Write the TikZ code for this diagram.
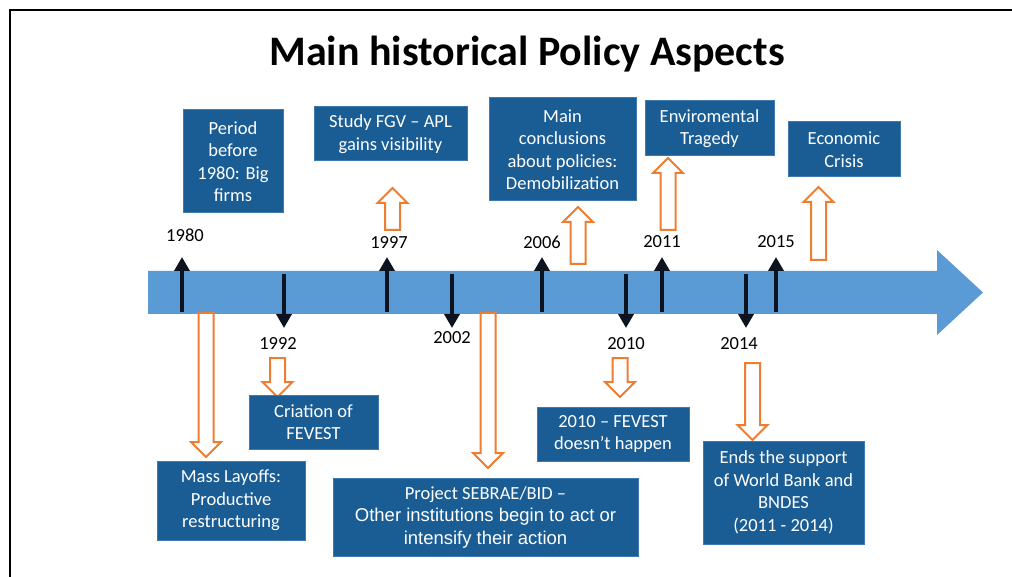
\documentclass[tikz,border=0pt]{standalone}
\usepackage{fontspec}
\setmainfont{Carlito}
\newfontfamily\arialf{Liberation Sans}
\usetikzlibrary{arrows.meta}
\definecolor{boxblue}{HTML}{1A5C94}
\definecolor{boxedge}{HTML}{3F79AE}
\definecolor{tlblue}{HTML}{5B9BD5}
\definecolor{oarr}{HTML}{ED7D31}
\definecolor{tickc}{HTML}{0D1420}
\newcommand\oarrUp[3]{% x, tip y, tail y
  \draw[oarrow] (#1-7.5,#3) -- (#1-7.5,#2+15) -- (#1-15,#2+15) -- (#1,#2) -- (#1+15,#2+15) -- (#1+7.5,#2+15) -- (#1+7.5,#3) -- cycle;}
\newcommand\oarrDown[3]{% x, tail y, tip y
  \draw[oarrow] (#1-7.5,#2) -- (#1-7.5,#3-15) -- (#1-15,#3-15) -- (#1,#3) -- (#1+15,#3-15) -- (#1+7.5,#3-15) -- (#1+7.5,#2) -- cycle;}
\begin{document}
\begin{tikzpicture}[x=1pt,y=-1pt,
  infobox/.style={fill=boxblue, draw=boxedge, line width=1pt, text=white, align=center,
    inner sep=0pt, font=\fontsize{18.5}{22.5}\selectfont},
  yearlbl/.style={text=black, inner sep=0pt, font=\fontsize{18.5}{20}\selectfont},
  oarrow/.style={draw=oarr, fill=white, line width=2pt, line join=miter},
  tick/.style={draw=tickc, line width=4pt, -{Triangle[width=15pt,length=14pt]}}]
\useasboundingbox (0,0) rectangle (1012,577);
\fill[white] (0,0) rectangle (1012,577);
% frame
\draw[black, line width=2pt] (1012,10) -- (10,10) -- (10,577);
% title
\node[font=\fontsize{42}{46}\selectfont\bfseries] (title) at (527,54) {Main historical Policy Aspects};
% timeline arrow
\fill[tlblue] (148,271) -- (937,271) -- (937,250) -- (983,292.5) -- (937,335) -- (937,314) -- (148,314) -- cycle;
% orange block arrows
\oarrUp{392.5}{188}{230}
\oarrUp{578}{207}{264}
\oarrUp{668}{158}{230}
\oarrUp{818.5}{187}{260}
\oarrDown{206}{313}{457}
\oarrDown{277.5}{358}{397}
\oarrDown{488}{313}{468}
\oarrDown{620}{358}{397}
\oarrDown{752.5}{363}{440}
% tick coordinates
\coordinate (u1980a) at (182,312); \coordinate (u1980b) at (182,257);
\coordinate (u1997a) at (387,312); \coordinate (u1997b) at (387,257);
\coordinate (u2006a) at (542,312); \coordinate (u2006b) at (542,257);
\coordinate (u2011a) at (662,312); \coordinate (u2011b) at (662,257);
\coordinate (u2015a) at (776,312); \coordinate (u2015b) at (776,257);
\coordinate (d1992a) at (284,274); \coordinate (d1992b) at (284,328);
\coordinate (d2002a) at (452,274); \coordinate (d2002b) at (452,328);
\coordinate (d2010a) at (626,274); \coordinate (d2010b) at (626,328);
\coordinate (d2014a) at (746,274); \coordinate (d2014b) at (746,328);
\draw[tick] (u1980a) -- (u1980b);
\draw[tick] (u1997a) -- (u1997b);
\draw[tick] (u2006a) -- (u2006b);
\draw[tick] (u2011a) -- (u2011b);
\draw[tick] (u2015a) -- (u2015b);
\draw[tick] (d1992a) -- (d1992b);
\draw[tick] (d2002a) -- (d2002b);
\draw[tick] (d2010a) -- (d2010b);
\draw[tick] (d2014a) -- (d2014b);
% year labels
\node[yearlbl] (y1980) at (185,235) {1980};
\node[yearlbl] (y1997) at (389,242) {1997};
\node[yearlbl] (y2006) at (542,242) {2006};
\node[yearlbl] (y2011) at (662,242) {2011};
\node[yearlbl] (y2015) at (776,242) {2015};
\node[yearlbl] (y1992) at (278,343) {1992};
\node[yearlbl] (y2002) at (452,338) {2002};
\node[yearlbl] (y2010) at (626,344) {2010};
\node[yearlbl] (y2014) at (739,344) {2014};
% boxes top
\node[infobox, minimum width=100pt, minimum height=103pt] (bperiod) at (233,161.5) {Period\\before\\1980: Big\\firms};
\node[infobox, minimum width=153pt, minimum height=54pt] (bstudy) at (390.5,134) {Study FGV -- APL\\gains visibility};
\node[infobox, minimum width=147pt, minimum height=103pt] (bmain) at (562.5,149.5) {Main\\conclusions\\about policies:\\Demobilization};
\node[infobox, minimum width=129pt, minimum height=55pt] (benv) at (709.5,128.5) {Enviromental\\Tragedy};
\node[infobox, minimum width=112pt, minimum height=55pt] (becon) at (844,149.5) {Economic\\Crisis};
% boxes bottom
\node[infobox, minimum width=129pt, minimum height=54pt] (bcri) at (313.5,422) {Criation of\\FEVEST};
\node[infobox, minimum width=148pt, minimum height=79pt] (bmass) at (231,500.5) {Mass Layoffs:\\Productive\\restructuring};
\node[infobox, minimum width=305pt, minimum height=78pt] (bproj) at (485.5,517) {Project SEBRAE/BID --\\{\arialf\fontsize{18.5}{22.5}\selectfont Other institutions begin to act or}\\{\arialf\fontsize{18.5}{22.5}\selectfont intensify their action}};
\node[infobox, minimum width=152pt, minimum height=54pt] (bfev) at (613,434) {2010 -- FEVEST\\doesn't happen};
\node[infobox, minimum width=161pt, minimum height=103pt] (bends) at (783.5,492.5) {Ends the support\\of World Bank and\\BNDES\\(2011 - 2014)};
\end{tikzpicture}
\end{document}
